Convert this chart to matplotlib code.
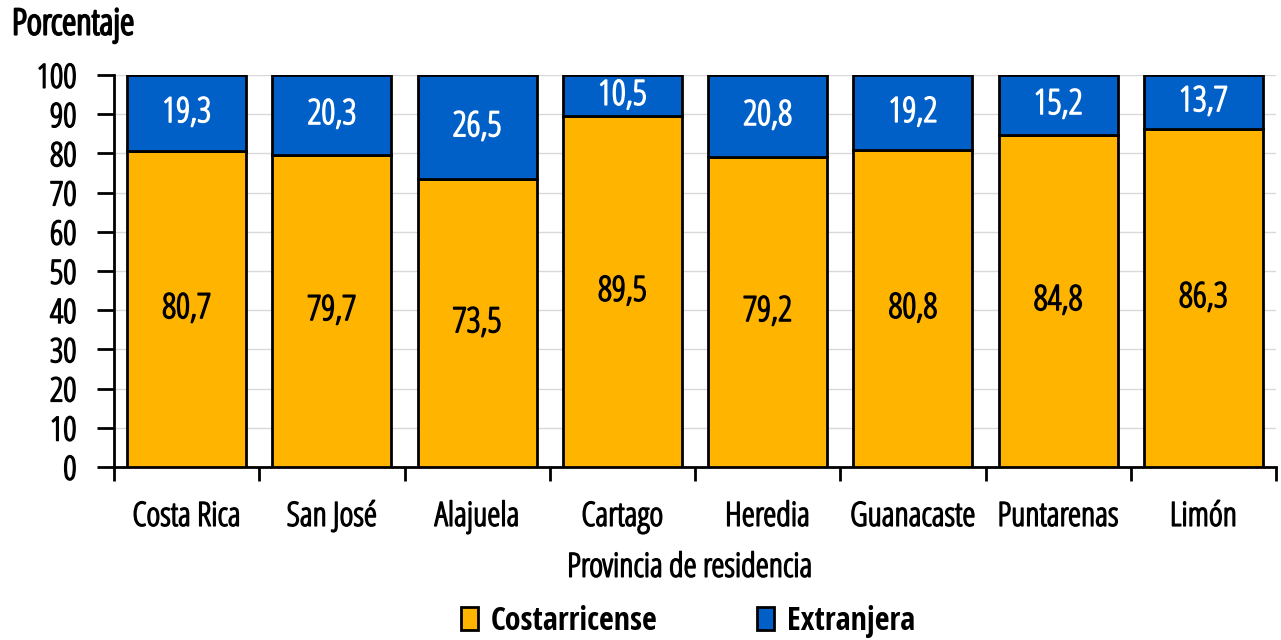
import matplotlib
matplotlib.use("Agg")
import matplotlib.pyplot as plt
from matplotlib.patches import Patch
import matplotlib.patheffects as pe
import numpy as np

categories = ["Costa Rica", "San José", "Alajuela", "Cartago", "Heredia",
              "Guanacaste", "Puntarenas", "Limón"]
costarricense = [80.7, 79.7, 73.5, 89.5, 79.2, 80.8, 84.8, 86.3]
extranjera = [19.3, 20.3, 26.5, 10.5, 20.8, 19.2, 15.2, 13.7]
series_names = ["Costarricense", "Extranjera"]
colors = ["#FFB400", "#0060C8"]

plt.rcParams['font.family'] = ['Open Sans', 'DejaVu Sans']
plt.rcParams['font.stretch'] = 'condensed'
plt.rcParams['font.weight'] = 300

def thick(color, lw=1.1):
    return [pe.withStroke(linewidth=lw, foreground=color)]

FS = 24

fig = plt.figure(figsize=(12.81, 6.4), dpi=100)
ax = fig.add_axes([114/1281, 1-467/640, (1276-114)/1281, (467-75)/640])

x = np.arange(len(categories))
w = 0.82
ax.bar(x, costarricense, w, color=colors[0], edgecolor="black", linewidth=2, zorder=3)
ax.bar(x, extranjera, w, bottom=costarricense, color=colors[1], edgecolor="black", linewidth=2, zorder=3)

for i in range(len(categories)):
    ax.text(x[i], costarricense[i]/2, f"{costarricense[i]:.1f}".replace(".", ","),
            ha="center", va="center", fontsize=FS+1, color="black", zorder=4,
            path_effects=thick("black"))
    ax.text(x[i], costarricense[i] + extranjera[i]/2, f"{extranjera[i]:.1f}".replace(".", ","),
            ha="center", va="center", fontsize=FS+1, color="white", zorder=4,
            path_effects=thick("white"))

ax.set_xlim(-0.5, len(categories)-0.5)
ax.set_ylim(0, 100)
ax.set_yticks(np.arange(0, 101, 10))
ax.tick_params(axis='y', labelsize=FS, length=12, width=2, pad=15)
ax.yaxis.grid(True, color="#d9d9d9", linewidth=1, zorder=0)
ax.set_xticks(np.arange(-0.5, len(categories), 1))
ax.set_xticklabels([])
ax.set_xticks(x, minor=True)
ax.set_xticklabels(categories, minor=True, fontsize=FS)
ax.tick_params(axis='x', which='major', length=10, width=2)
ax.tick_params(axis='x', which='minor', length=0, pad=24)
for lbl in ax.get_yticklabels() + ax.get_xticklabels(minor=True):
    lbl.set_path_effects(thick("black"))
for s in ["top", "right"]:
    ax.spines[s].set_visible(False)
for s in ["left", "bottom"]:
    ax.spines[s].set_linewidth(2)

fig.text(12/1281, 1-25/640, "Porcentaje", fontsize=26, va="center", ha="left",
         path_effects=thick("black", 1.6))
fig.text(690/1281, 1-568/640, "Provincia de residencia", fontsize=FS, va="center", ha="center",
         path_effects=thick("black"))

handles = [Patch(facecolor=colors[0], edgecolor="black", linewidth=2),
           Patch(facecolor=colors[1], edgecolor="black", linewidth=2)]
leg = fig.legend(handles, series_names, loc="center", bbox_to_anchor=(688/1281, 1-621/640),
                 ncol=2, frameon=False,
                 prop={'family': 'Open Sans Condensed', 'size': 23, 'weight': 'bold', 'stretch': 'condensed'},
                 handlelength=0.55, handleheight=0.7, columnspacing=3.1, handletextpad=0.4)
fig.savefig("out.png", dpi=100)
